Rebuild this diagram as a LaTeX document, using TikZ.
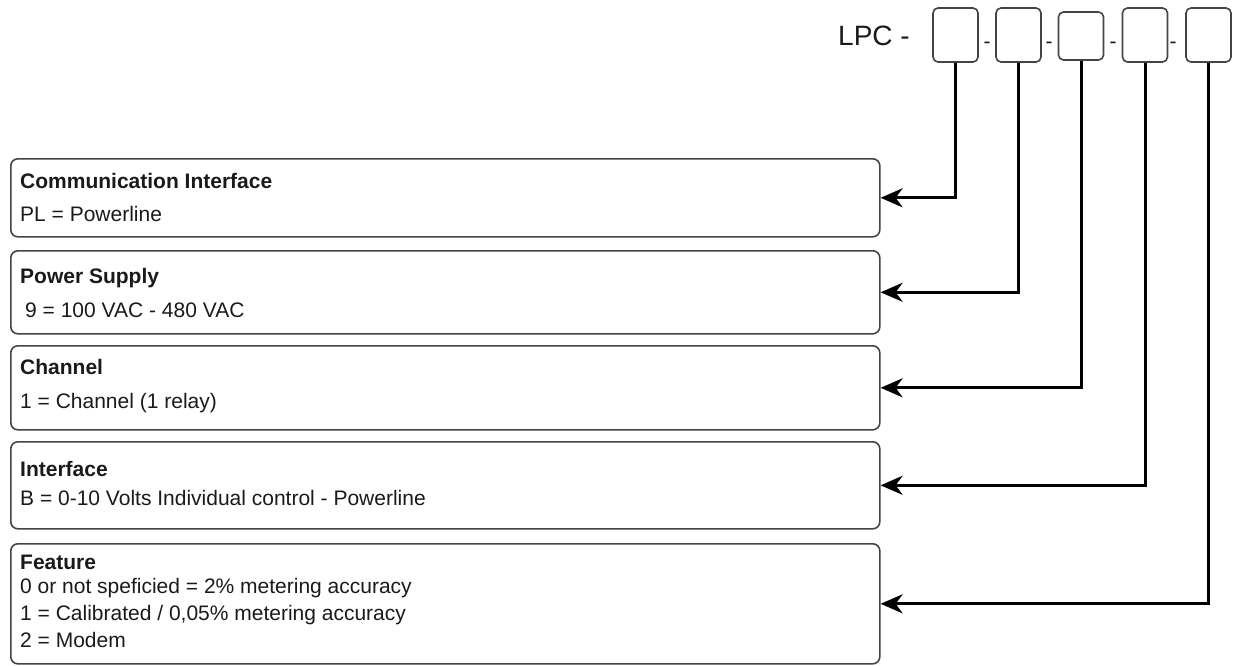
\documentclass[tikz,border=0pt]{standalone}
\usepackage{fontspec}
\setmainfont{Liberation Sans}
\usetikzlibrary{arrows.meta}
\definecolor{boxline}{HTML}{444444}
\definecolor{ink}{HTML}{1A1A1A}

\tikzset{
  slot/.style={draw=boxline, line width=1.6pt, rounded corners=5pt, minimum width=45pt, minimum height=54pt, inner sep=0pt},
  field/.style={draw=boxline, line width=1.6pt, rounded corners=7pt, minimum width=869pt, inner sep=0pt, anchor=north west},
  head/.style={anchor=base west, font=\fontsize{21}{25}\selectfont\bfseries, text=ink, inner sep=0pt},
  entry/.style={anchor=base west, font=\fontsize{21}{25}\selectfont, text=ink, inner sep=0pt},
  sep/.style={anchor=base, font=\fontsize{21}{25}\selectfont, text=ink, inner sep=0pt},
  link/.style={draw=black, line width=3pt, -{Stealth[length=22pt, width=19pt, inset=7pt]}}
}

\begin{document}
\begin{tikzpicture}[x=1pt, y=-1pt]
\useasboundingbox (0,0) rectangle (1233,665);

% part number code
\node[anchor=base west, font=\fontsize{28}{32}\selectfont, text=ink, inner sep=0pt] (lpc) at (838,45) {LPC -};
\node[slot] (c1) at (955.5,35) {};
\node[slot] (c2) at (1018.5,35) {};
\node[slot, minimum height=48pt] (c3) at (1081,36) {};
\node[slot] (c4) at (1145,35) {};
\node[slot] (c5) at (1208.5,35) {};
\node[sep] (d1) at (987,48) {-};
\node[sep] (d2) at (1049,48) {-};
\node[sep] (d3) at (1113,48) {-};
\node[sep] (d4) at (1173,48) {-};

% option fields
\node[field, minimum height=78pt] (f1) at (10,158) {};
\node[field, minimum height=83pt] (f2) at (10,250) {};
\node[field, minimum height=84pt] (f3) at (10,345) {};
\node[field, minimum height=87pt] (f4) at (10,441) {};
\node[field, minimum height=120pt] (f5) at (10,543) {};

\node[head] (h1) at (20,188) {Communication Interface};
\node[entry] (e1) at (20,221) {PL = Powerline};
\node[head] (h2) at (20,283) {Power Supply};
\node[entry] (e2) at (25,317) {9 = 100 VAC - 480 VAC};
\node[head] (h3) at (20,374) {Channel};
\node[entry] (e3) at (20,408) {1 = Channel (1 relay)};
\node[head] (h4) at (20,476) {Interface};
\node[entry] (e4) at (20,505) {B = 0-10 Volts Individual control - Powerline};
\node[head] (h5) at (20,569) {Feature};
\node[entry] (e5a) at (20,593) {0 or not speficied = 2\% metering accuracy};
\node[entry] (e5b) at (20,620) {1 = Calibrated / 0,05\% metering accuracy};
\node[entry] (e5c) at (20,647) {2 = Modem};

% connectors
\draw[link] (c1.south) |- (f1.east);
\draw[link] (c2.south) |- (f2.east);
\draw[link] (c3.south) |- (f3.east);
\draw[link] (c4.south) |- (f4.east);
\draw[link] (c5.south) |- (f5.east);
\end{tikzpicture}
\end{document}
